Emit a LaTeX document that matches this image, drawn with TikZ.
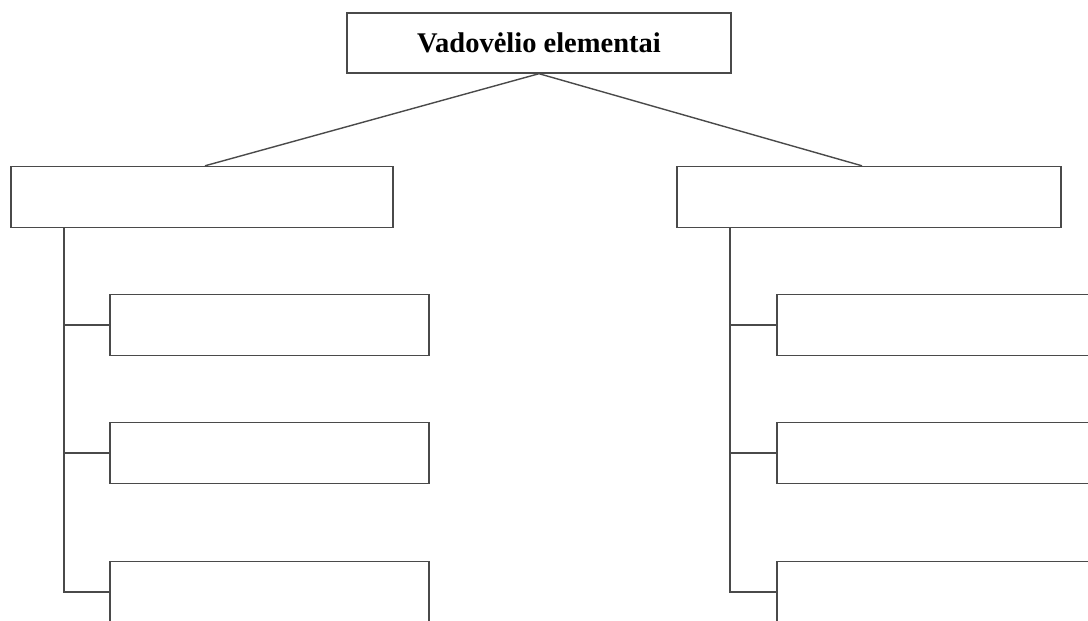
\documentclass[tikz,border=0pt]{standalone}
\usepackage{fontspec}
\setmainfont{Liberation Serif}
\usetikzlibrary{positioning}
\definecolor{cline}{HTML}{4A4A4A}
\tikzset{
  every picture/.style={line width=1.4pt},
  box/.style={draw=cline, fill=white, minimum width=#1, minimum height=61pt, inner sep=0pt},
  box/.default=319pt,
  link/.style={draw=cline},
}
\begin{document}
\begin{tikzpicture}[x=1pt, y=-1pt]
  \useasboundingbox (0,0) rectangle (1088,621);
  \clip (0,0) rectangle (1088,621);
  \node[box=384pt, minimum height=60pt, font=\fontsize{28.5}{33}\selectfont\bfseries] (root) at (539,43) {Vadovėlio elementai};
  \node[box=382pt] (left) at (202,197) {};
  \node[box=384pt] (right) at (869,197) {};
  \draw[link] (root.south) -- ([xshift=3pt]left.north);
  \draw[link] (root.south) -- ([xshift=-7pt]right.north);
  % two branches with three boxes each
  \foreach \side/\cx/\tx in {left/269.5/64, right/936.5/730} {
    \coordinate (t\side) at (\tx,0);
    \foreach \i/\cy in {1/325,2/453,3/592} {
      \node[box] (\side\i) at (\cx,\cy) {};
      \draw[link] (\side\i.west -| t\side) -- (\side\i.west);
    }
    \draw[link] (\side.south -| t\side) -- (\side3.west -| t\side) -- (\side3.west);
  }
\end{tikzpicture}
\end{document}
